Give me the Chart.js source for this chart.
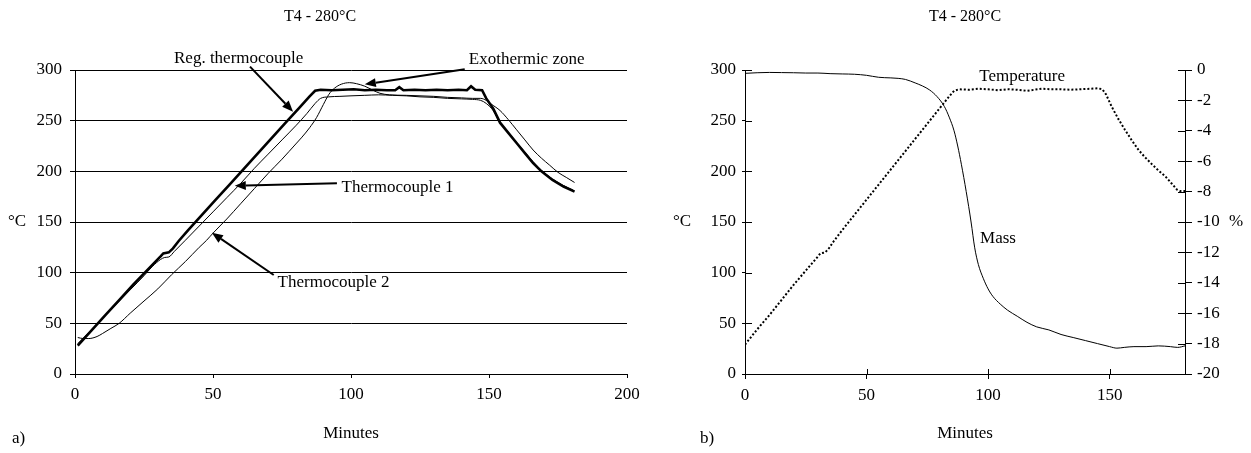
<!DOCTYPE html>
<html><head><meta charset="utf-8">
<script src="https://cdn.jsdelivr.net/npm/chart.js@4.4.1/dist/chart.umd.min.js"></script>
<style>
html,body{margin:0;padding:0;background:#fff;width:1251px;height:453px;overflow:hidden}
canvas{position:absolute;top:0}
#a{left:0}
#b{left:660px}
</style></head><body>
<canvas id="a" width="650" height="453"></canvas>
<canvas id="b" width="591" height="453"></canvas>
<script>
// ---------- data: chart a) ----------
const regMin  = [1,6,11,16,21,26,31,32,34,35.5,37.5,41,46,51,56,61,66,71,76,81,85,87,89,93,97,101,105,109,113,116,117.5,119,123,127,131,135,139,142,143.5,145,147.5,149,151.5,154,157,160,163,166,169,173,177,181];
const regTemp = [28,43,58,73,88,102,116,119,120,124,131,142,157,172,187,202,217,232,247,262,274,279.5,280.5,280,280.5,281,280,280.5,280,280,283,280,280.5,280,280.5,280,280.5,280,284,280.5,280,272,262,248,238,228,218,208,200,191.5,185,180];
const t1Min  = [1,5,10,15,20,25,28,31,32.5,34,36,40,45,50,55,60,65,70,75,80,84,87,89,92,96,100,105,110,115,120,125,130,135,140,144,147,149,151.5,154,157,160,163,166,169,173,177,180.5];
const t1Temp = [30,41,55,69,83,97,106,113,115,115.5,121,132,146,160,174,188,203,217,231,245,257,267,272,273.5,274,274.5,275,275.5,275,274.5,273.5,273,272,271.5,271,270,267,260,248,238.5,228.5,219,209.5,201,192.5,186,181.5];
const t2Min  = [1,3,5,8,10,13,16,20,25,30,35,40,45,47.7,50,55,60,65,70,75,80,82,85,87.5,90,92,94,96.5,99.5,102,105,108,110.5,114,120,125,130,135,140,144,147,149,151,154,157,160,163,166,169,172,175,178,181];
const t2Temp = [36,35,35,37,40,45,50,60,72,84,98,111,125,132,139,153,168,183,198,212,227,233,243,253,266,276,282,286,287.5,286.5,284,280,277,275.5,275,274.5,274,273,272.5,272,272,270,266,260,251,241,231,221,213,206,199,194,189];
const axA = {xMin:0, xMax:200, xStep:50, yMin:0, yMax:300, yStep:50};

// ---------- data: chart b) ----------
const tempMin = [0,5,10,15,20,25,30,31,33,34.5,36.5,40,45,50,55,60,65,70,75,80,84,86,88,92,96,100,104,108,112,116,119,122,126,130,134,138,142,145,147,148.5,150.8,153.5,156.3,159,161.9,164.5,167.4,170,172.9,175.5,177.7,179,181];
const tempC   = [29,44,58,73,88,102,116,119,120,124,131,142,157,172,187,202,217,232,247,262,274,279.5,281,280.5,281.5,281,280,281,280.5,279.5,280.5,281.5,281,281,280.5,281,281.5,282,281,276,264,252,241,231,221,214,207,201,195,188,182,180.5,180.5];
const massMin = [0,5,10,15,20,25,30,35,40,45,50,55,60,63,66,70,73,76,79,82,84,86,87.5,89,91,93,94.5,96,98,100,102,105,108,112,116,120,125,130,135,140,145,150,153,156,160,165,170,175,178,181];
const massPct = [-0.22,-0.18,-0.16,-0.17,-0.18,-0.2,-0.2,-0.24,-0.26,-0.28,-0.35,-0.48,-0.52,-0.55,-0.62,-0.85,-1.05,-1.32,-1.75,-2.4,-3.1,-4.0,-5.0,-6.2,-8.0,-10.0,-11.7,-12.8,-13.7,-14.4,-14.9,-15.4,-15.8,-16.2,-16.6,-16.9,-17.1,-17.4,-17.6,-17.8,-18.0,-18.2,-18.3,-18.25,-18.2,-18.2,-18.15,-18.2,-18.25,-18.15];
const axB = {xMin:0, xMax:181, xStep:50, yMin:0, yMax:300, yStep:50, y2Min:-20, y2Max:0, y2Step:2};

const titleText = 'T4 - 280°C';

// ---------- annotations (in data units) ----------
const annA = {
  texts: [
    {text:'Reg. thermocouple', x:59.3, y:307.4, align:'center'},
    {text:'Exothermic zone', x:142.7, y:306, align:'left'},
    {text:'Thermocouple 1', x:96.6, y:179.6, align:'left'},
    {text:'Thermocouple 2', x:73.4, y:85.5, align:'left'}
  ],
  arrows: [
    {x1:63.4, y1:303.3, x2:79.0, y2:258.9},
    {x1:141.2, y1:300.7, x2:105.0, y2:285.9},
    {x1:94.9, y1:188.2, x2:57.9, y2:185.8},
    {x1:72.0, y1:97.7, x2:49.6, y2:139.4}
  ]
};
const annB = {
  texts: [
    {text:'Temperature', x:114, y:289, align:'center', axis:'y'},
    {text:'Mass', x:96.7, y:-11.4, align:'left', axis:'y2'}
  ],
  arrows: []
};

const FONT = "'Liberation Serif','Times New Roman',serif";
Chart.defaults.font.family = FONT;
Chart.defaults.font.size = 17;
Chart.defaults.color = '#000';

function pts(xs, ys){ return xs.map((x,i)=>({x:x, y:ys[i]})); }

const deco = {
  id:'deco',
  afterDraw(chart, args, o){
    const ctx = chart.ctx, ca = chart.chartArea, xs = chart.scales.x;
    ctx.save();
    ctx.fillStyle = '#000'; ctx.strokeStyle = '#000';
    // title
    ctx.textAlign = 'center'; ctx.textBaseline = 'middle';
    ctx.font = o.titleFont + ' ' + FONT;
    ctx.fillText(titleText, o.titleX, o.titleY);
    ctx.font = '17px ' + FONT;
    // unit labels
    const ys = chart.scales.y;
    ctx.textAlign = 'left'; ctx.textBaseline = 'middle';
    ctx.fillText('°C', o.degX, ys.getPixelForValue(150));
    if (o.pct) {
      const y2 = chart.scales.y2;
      ctx.fillText('%', o.pctX, y2.getPixelForValue(-10));
    }
    ctx.textBaseline = 'alphabetic';
    ctx.fillText(o.panel, o.panelX, o.panelY);
    // crossing tick marks
    if (o.cross) {
      ctx.lineWidth = 1;
      ctx.beginPath();
      xs.ticks.forEach(t => { const p = Math.round(xs.getPixelForValue(t.value))+0.5; ctx.moveTo(p, ca.bottom); ctx.lineTo(p, ca.bottom - 5); });
      ys.ticks.forEach(t => { const p = Math.round(ys.getPixelForValue(t.value))+0.5; ctx.moveTo(ca.left, p); ctx.lineTo(ca.left + 7, p); });
      const y2 = chart.scales.y2;
      y2.ticks.forEach(t => { const p = Math.round(y2.getPixelForValue(t.value))+0.5; ctx.moveTo(ca.right, p); ctx.lineTo(ca.right - 7, p); });
      ctx.stroke();
    }
    // annotation texts
    const ann = o.ann;
    ann.texts.forEach(t => {
      const sy = chart.scales[t.axis || 'y'];
      ctx.textAlign = t.align; ctx.textBaseline = 'alphabetic';
      ctx.fillText(t.text, xs.getPixelForValue(t.x), sy.getPixelForValue(t.y));
    });
    // arrows
    ann.arrows.forEach(a => {
      const x1 = xs.getPixelForValue(a.x1), y1 = ys.getPixelForValue(a.y1);
      const x2 = xs.getPixelForValue(a.x2), y2 = ys.getPixelForValue(a.y2);
      const ang = Math.atan2(y2 - y1, x2 - x1);
      const L = 11, W = 4.5;
      const bx = x2 - L*Math.cos(ang), by = y2 - L*Math.sin(ang);
      ctx.lineWidth = 2;
      ctx.beginPath(); ctx.moveTo(x1, y1); ctx.lineTo(bx, by); ctx.stroke();
      ctx.beginPath();
      ctx.moveTo(x2, y2);
      ctx.lineTo(bx + W*Math.sin(ang), by - W*Math.cos(ang));
      ctx.lineTo(bx - W*Math.sin(ang), by + W*Math.cos(ang));
      ctx.closePath(); ctx.fill();
    });
    ctx.restore();
  }
};

new Chart(document.getElementById('a'), {
  type:'scatter',
  data:{datasets:[
    {data:pts(regMin, regTemp), showLine:true, borderColor:'#000', borderWidth:2.6, pointRadius:0, tension:0},
    {data:pts(t1Min, t1Temp), showLine:true, borderColor:'#000', borderWidth:1, pointRadius:0, cubicInterpolationMode:'monotone'},
    {data:pts(t2Min, t2Temp), showLine:true, borderColor:'#000', borderWidth:1, pointRadius:0, cubicInterpolationMode:'monotone'}
  ]},
  options:{
    responsive:false, animation:false, events:[],
    layout:{padding:{top:70, left:0, right:23, bottom:0}},
    plugins:{legend:{display:false}, tooltip:{enabled:false}, title:{display:false},
      deco:{titleX:320, titleY:17, titleFont:'16px', degX:8, panel:'a)', panelX:12, panelY:443, cross:false, ann:annA}},
    scales:{
      x:{type:'linear', min:axA.xMin, max:axA.xMax,
         ticks:{stepSize:axA.xStep, padding:6, maxRotation:0},
         grid:{display:true, drawOnChartArea:false, color:'#000', tickLength:4},
         border:{display:true, color:'#000', width:1},
         title:{display:true, text:'Minutes', padding:{top:0, bottom:9}},
         afterFit(s){ s.height = 79; }},
      y:{type:'linear', min:axA.yMin, max:axA.yMax,
         ticks:{stepSize:axA.yStep, padding:8},
         grid:{color:'#000', tickLength:5},
         border:{display:true, color:'#000', width:1},
         afterFit(s){ s.width = 75; }}
    }
  },
  plugins:[deco]
});

new Chart(document.getElementById('b'), {
  type:'scatter',
  data:{datasets:[
    {data:pts(tempMin, tempC), yAxisID:'y', showLine:true, borderColor:'#000', borderWidth:2, borderDash:[2,2], pointRadius:0, tension:0},
    {data:pts(massMin, massPct), yAxisID:'y2', showLine:true, borderColor:'#000', borderWidth:1, pointRadius:0, cubicInterpolationMode:'monotone'}
  ]},
  options:{
    responsive:false, animation:false, events:[],
    layout:{padding:{top:70, left:0, right:0, bottom:0}},
    plugins:{legend:{display:false}, tooltip:{enabled:false}, title:{display:false},
      deco:{titleX:305, titleY:17, titleFont:'16px', degX:13, pct:true, pctX:569, panel:'b)', panelX:40, panelY:443, cross:true, ann:annB}},
    scales:{
      x:{type:'linear', min:axB.xMin, max:axB.xMax,
         ticks:{stepSize:axB.xStep, padding:6, maxRotation:0, includeBounds:false},
         grid:{display:true, drawOnChartArea:false, color:'#000', tickLength:5},
         border:{display:true, color:'#000', width:1},
         title:{display:true, text:'Minutes', padding:{top:0, bottom:9}},
         afterFit(s){ s.height = 79; }},
      y:{type:'linear', position:'left', min:axB.yMin, max:axB.yMax,
         ticks:{stepSize:axB.yStep, padding:6},
         grid:{drawOnChartArea:false, color:'#000', tickLength:3},
         border:{display:true, color:'#000', width:1},
         afterFit(s){ s.width = 85; }},
      y2:{type:'linear', position:'right', min:axB.y2Min, max:axB.y2Max,
         ticks:{stepSize:axB.y2Step, padding:5},
         grid:{drawOnChartArea:false, color:'#000', tickLength:7},
         border:{display:true, color:'#000', width:1},
         afterFit(s){ s.width = 66; }}
    }
  },
  plugins:[deco]
});
</script>
</body></html>
